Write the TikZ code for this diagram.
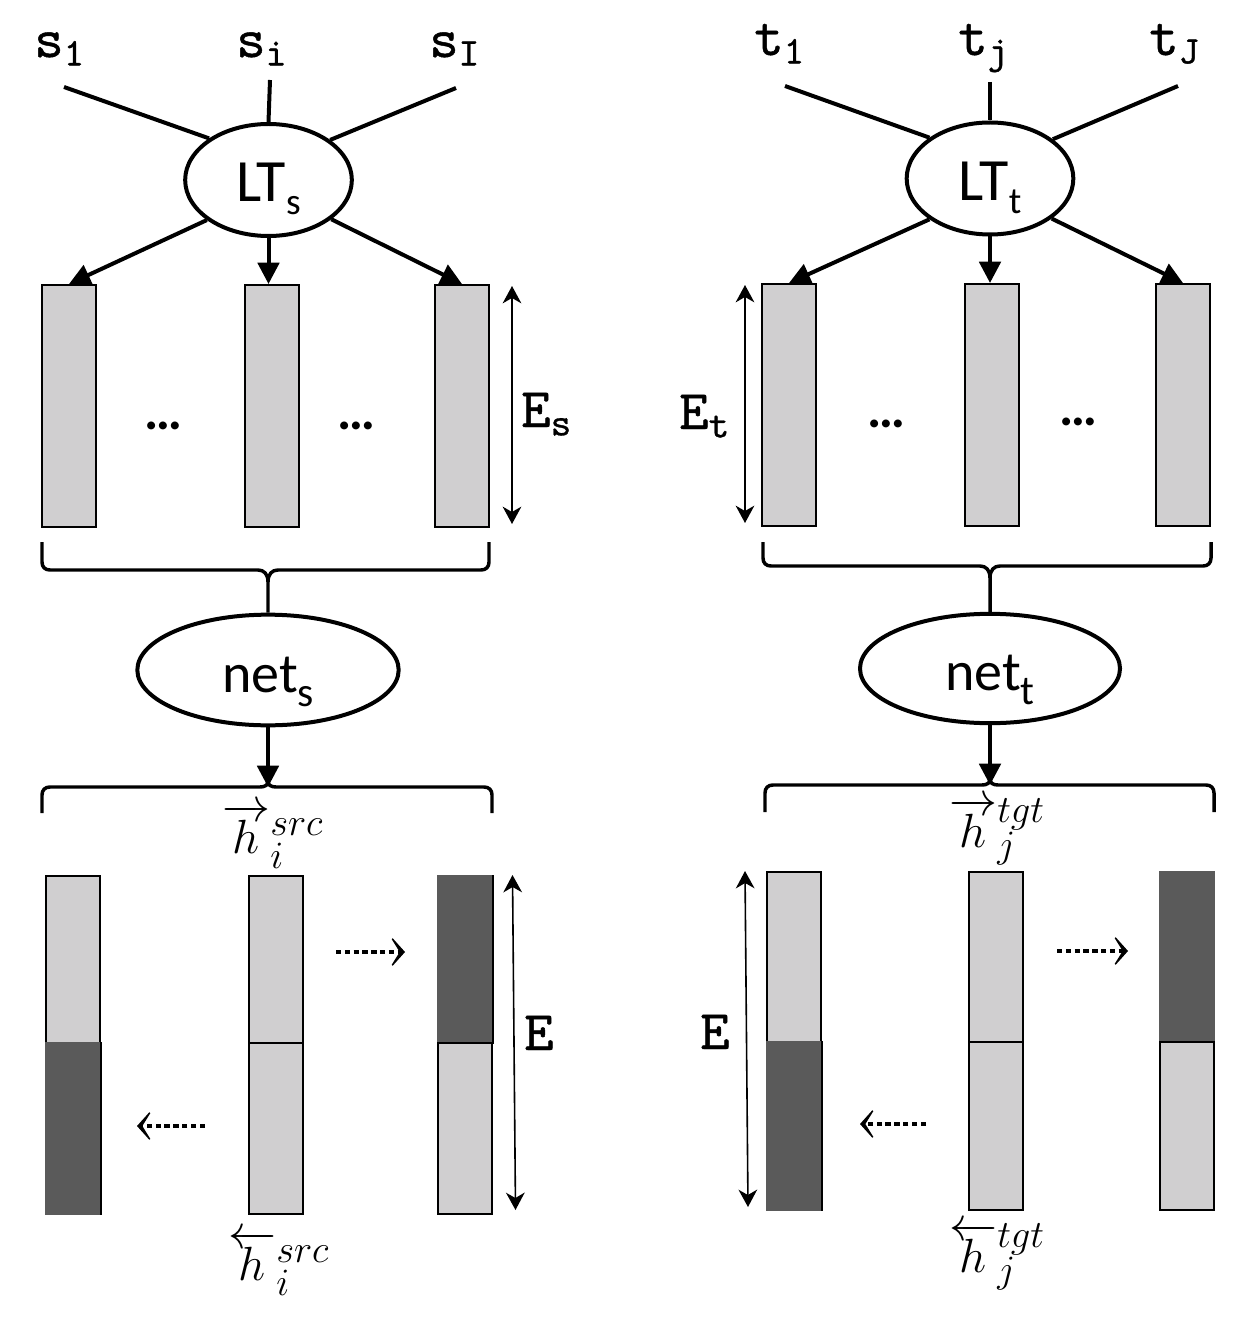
\RequirePackage{fix-cm}
\documentclass[tikz,border=0pt]{standalone}
\usepackage{fontspec}
\setmonofont{lmmono10-regular.otf}[FakeBold=0.8]
\newfontfamily\calib{Carlito}
\DeclareMathSizes{36}{36}{29}{22}
\usetikzlibrary{arrows.meta,shapes.geometric}
\definecolor{lightbar}{HTML}{D0CFD0}
\definecolor{darkbar}{HTML}{5A5A5A}
\newcommand\ltsub[1]{\raisebox{-9.5pt}{\fontsize{28}{30}\selectfont #1}}
\newcommand\netsub[1]{\raisebox{-10.5pt}{\fontsize{31}{34}\selectfont #1}}
\newcommand\lowsub[1]{\raisebox{-3pt}{$\scriptstyle #1$}}
\tikzset{
  conn/.style={line width=3pt},
  bracel/.style={line width=2.6pt},
  arr/.style={conn,-{Triangle[length=16pt,width=16pt]}},
  ellnode/.style={ellipse,draw,line width=3pt,inner sep=0pt,text height=38pt,text depth=5pt},
  barbox/.style={draw,line width=1.5pt,minimum width=40.5pt,inner sep=0pt,anchor=north},
  dimarrow/.style={line width=1.2pt,{Stealth[length=13pt,width=14pt,inset=4pt]}-{Stealth[length=13pt,width=14pt,inset=4pt]}},
  dotarr/.style={line width=3.4pt,dash pattern=on 4pt off 2.6pt,-{Stealth[length=13pt,width=29pt,inset=9pt]}},
  ttlab/.style={inner sep=0pt,anchor=base west,font=\fontsize{42}{50}\selectfont},
  hlab/.style={inner sep=0pt,anchor=base west,font=\fontsize{36}{40}\selectfont},
  dotslab/.style={inner sep=0pt,font=\fontsize{40}{44}\selectfont\calib\bfseries},
}
\begin{document}
\begin{tikzpicture}[x=0.75pt,y=-0.75pt]
\useasboundingbox (0,0) rectangle (1256,1326);

% ================= LEFT PANEL (source) =================
\node[ttlab] (s1) at (34,57) {$\mathtt{s}_{\mathtt{1}}$};
\node[ttlab] (si) at (236,57) {$\mathtt{s}_{\mathtt{i}}$};
\node[ttlab] (sI) at (429,57) {$\mathtt{s}_{\mathtt{I}}$};
\coordinate (s1e) at (64,87);
\coordinate (sie) at (270,80);
\coordinate (sIe) at (456,88);

\node[ellnode,minimum width=125pt,minimum height=84pt] (LTs) at (268.5,180)
  {\fontsize{45}{50}\selectfont\calib LT\ltsub{s}};
\draw[conn] (s1e) -- (LTs.145.8);
\draw[conn] (sie) -- (LTs.north);
\draw[conn] (sIe) -- (LTs.33.5);

\node[barbox,fill=lightbar,minimum height=181.5pt] (bs1) at (69,284) {};
\node[barbox,fill=lightbar,minimum height=181.5pt] (bs2) at (271.5,284) {};
\node[barbox,fill=lightbar,minimum height=181.5pt] (bs3) at (462,284) {};
\draw[arr] (LTs.-147) -- (bs1.north);
\draw[arr] (LTs.south) -- (LTs.south |- bs2.north);
\draw[arr] (LTs.-32.5) -- (bs3.north);

\node[dotslab] (ds1) at (163,426) {…};
\node[dotslab] (ds2) at (356,426) {…};

\coordinate (es1) at (512,286);
\coordinate (es2) at (512,524);
\draw[dimarrow] (es1) -- (es2);
\node[ttlab] (Es) at (521,427) {$\mathtt{E}_{\mathtt{s}}$};

% upper brace
\node[ellnode,minimum width=196pt,minimum height=83pt] (nets) at (268,670)
  {\fontsize{42}{46}\selectfont\calib net\netsub{s}};
\draw[bracel] (42,542) -- (42,562) .. controls (42,567) and (45,570) .. (50,570)
  -- (258,570) .. controls (264,570) and (268,574) .. (268,582) -- (nets.north);
\draw[bracel] (489,542) -- (489,562) .. controls (489,567) and (486,570) .. (481,570)
  -- (278,570) .. controls (272,570) and (268,574) .. (268,582);

% lower brace
\coordinate (hs) at (268,787);
\draw[bracel] (42,813) -- (42,795) .. controls (42,790) and (45,787) .. (50,787)
  -- (260,787) .. controls (265,787) and (268,785) .. (268,781);
\draw[bracel] (492,813) -- (492,795) .. controls (492,790) and (489,787) .. (484,787)
  -- (276,787) .. controls (271,787) and (268,785) .. (268,781);
\draw[arr] (nets.south) -- (hs);
\node[hlab] (hsf) at (222,853) {$\overrightarrow{h}{}^{src}_{\lowsub{i}}$};

% lower bars
\node[barbox,fill=lightbar,minimum height=125.25pt] (sa1) at (73,875) {};
\node[barbox,fill=darkbar,draw=darkbar,minimum height=128.25pt] (sa2) at (73,1042) {};
\draw[line width=1.5pt] (sa2.north east) -- (sa2.south east);
\node[barbox,fill=lightbar,minimum height=125.25pt] (sb1) at (275.5,875) {};
\node[barbox,fill=lightbar,minimum height=128.25pt] (sb2) at (275.5,1042) {};
\node[barbox,fill=darkbar,draw=darkbar,minimum height=125.25pt] (sc1) at (465,875) {};
\node[barbox,fill=lightbar,minimum height=128.25pt] (sc2) at (465,1042) {};
\draw[line width=1.5pt] (sc1.north east) -- (sc1.south east);

\coordinate (dsr1) at (336,952);
\coordinate (dsr2) at (405,952);
\draw[dotarr] (dsr1) -- (dsr2);
\coordinate (dsl1) at (205,1126);
\coordinate (dsl2) at (137,1126);
\draw[dotarr] (dsl1) -- (dsl2);

\coordinate (e1) at (512.5,875);
\coordinate (e2) at (515.5,1210);
\draw[dimarrow] (e1) -- (e2);
\node[ttlab] (El) at (524,1050) {$\mathtt{E}$};

\node[hlab] (hsb) at (228,1280) {$\overleftarrow{h}{}^{src}_{\lowsub{i}}$};

% ================= RIGHT PANEL (target) =================
\node[ttlab] (t1) at (754,55) {$\mathtt{t}_{\mathtt{1}}$};
\node[ttlab] (tj) at (958,55) {$\mathtt{t}_{\mathtt{j}}$};
\node[ttlab] (tJ) at (1149,55) {$\mathtt{t}_{\mathtt{J}}$};
\coordinate (t1e) at (785,86);
\coordinate (tje) at (990,82);
\coordinate (tJe) at (1178,86);

\node[ellnode,minimum width=125pt,minimum height=84pt] (LTt) at (990,178.5)
  {\fontsize{45}{50}\selectfont\calib LT\ltsub{t}};
\draw[conn] (t1e) -- (LTt.146.3);
\draw[conn] (tje) -- (LTt.north);
\draw[conn] (tJe) -- (LTt.32.9);

\node[barbox,fill=lightbar,minimum height=181.5pt] (bt1) at (789,283) {};
\node[barbox,fill=lightbar,minimum height=181.5pt] (bt2) at (992,283) {};
\node[barbox,fill=lightbar,minimum height=181.5pt] (bt3) at (1183,283) {};
\draw[arr] (LTt.-146) -- (bt1.north);
\draw[arr] (LTt.south) -- (LTt.south |- bt2.north);
\draw[arr] (LTt.-33) -- (bt3.north);

\node[dotslab] (dt1) at (886,424) {…};
\node[dotslab] (dt2) at (1078,422) {…};

\coordinate (et1) at (745,285);
\coordinate (et2) at (745,523);
\draw[dimarrow] (et1) -- (et2);
\node[ttlab] (Et) at (679,429) {$\mathtt{E}_{\mathtt{t}}$};

\node[ellnode,minimum width=195pt,minimum height=82pt] (nett) at (990,668.5)
  {\fontsize{42}{46}\selectfont\calib net\netsub{t}};
\draw[bracel] (763,542) -- (763,558) .. controls (763,563) and (766,566) .. (771,566)
  -- (980,566) .. controls (986,566) and (990,570) .. (990,578) -- (nett.north);
\draw[bracel] (1211,542) -- (1211,558) .. controls (1211,563) and (1208,566) .. (1203,566)
  -- (1000,566) .. controls (994,566) and (990,570) .. (990,578);

\coordinate (ht) at (990,785);
\draw[bracel] (765,812) -- (765,793) .. controls (765,788) and (768,785) .. (773,785)
  -- (982,785) .. controls (987,785) and (990,783) .. (990,779);
\draw[bracel] (1214,812) -- (1214,793) .. controls (1214,788) and (1211,785) .. (1206,785)
  -- (998,785) .. controls (993,785) and (990,783) .. (990,779);
\draw[arr] (nett.south) -- (ht);
\node[hlab] (htf) at (949,847) {$\overrightarrow{h}{}^{tgt}_{\lowsub{j}}$};

\node[barbox,fill=lightbar,minimum height=127.5pt] (ta1) at (793.5,871) {};
\node[barbox,fill=darkbar,draw=darkbar,minimum height=126pt] (ta2) at (793.5,1041) {};
\draw[line width=1.5pt] (ta2.north east) -- (ta2.south east);
\node[barbox,fill=lightbar,minimum height=127.5pt] (tb1) at (995.5,871) {};
\node[barbox,fill=lightbar,minimum height=126pt] (tb2) at (995.5,1041) {};
\node[barbox,fill=darkbar,draw=darkbar,minimum height=127.5pt] (tc1) at (1186.5,871) {};
\node[barbox,fill=lightbar,minimum height=126pt] (tc2) at (1186.5,1041) {};

\coordinate (dtr1) at (1057,951);
\coordinate (dtr2) at (1128,951);
\draw[dotarr] (dtr1) -- (dtr2);
\coordinate (dtl1) at (926,1124);
\coordinate (dtl2) at (860,1124);
\draw[dotarr] (dtl1) -- (dtl2);

\coordinate (f1) at (745,871);
\coordinate (f2) at (748,1207);
\draw[dimarrow] (f1) -- (f2);
\node[ttlab] (Er) at (700,1049) {$\mathtt{E}$};

\node[hlab] (htb) at (949,1272) {$\overleftarrow{h}{}^{tgt}_{\lowsub{j}}$};
\end{tikzpicture}
\end{document}
